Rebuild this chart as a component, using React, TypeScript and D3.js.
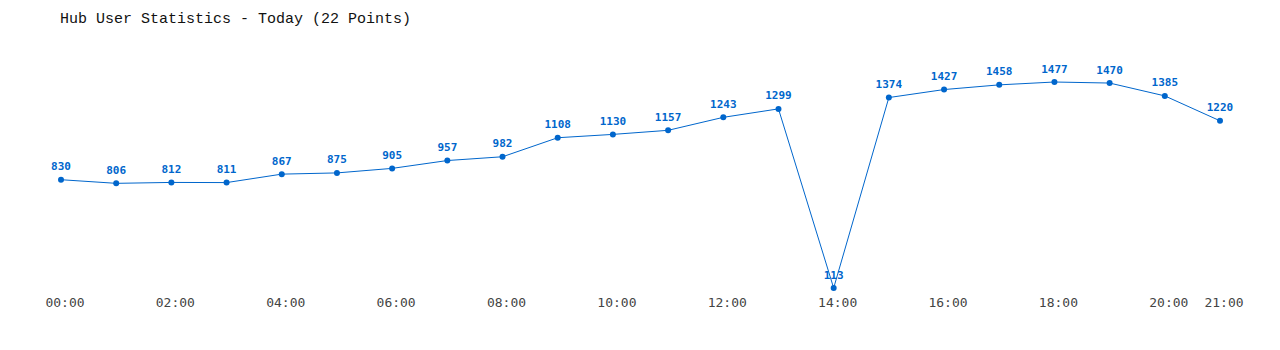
import React from "react";
import * as d3 from "d3";

const categories = ["00:00","01:00","02:00","03:00","04:00","05:00","06:00","07:00","08:00","09:00","10:00","11:00","12:00","13:00","14:00","15:00","16:00","17:00","18:00","19:00","20:00","21:00"];
const values = [830, 806, 812, 811, 867, 875, 905, 957, 982, 1108, 1130, 1157, 1243, 1299, 113, 1374, 1427, 1458, 1477, 1470, 1385, 1220];
const tickLabels = ["00:00","02:00","04:00","06:00","08:00","10:00","12:00","14:00","16:00","18:00","20:00","21:00"];

export default function App() {
  const W = 1280, H = 350;
  const x = d3.scalePoint<string>().domain(categories).range([61, 1220]);
  const y = d3.scaleLinear().domain([d3.min(values)!, d3.max(values)!]).range([288, 82]);
  const line = d3.line<number>().x((_, i) => x(categories[i])!).y(d => y(d));
  const blue = "#0066cc";
  return (
    <svg width={W} height={H} style={{ position: "absolute", left: 0, top: 0 }}>
      <rect width={W} height={H} fill="#fff" />
      <text x={60} y={23} fontFamily="'Liberation Mono', monospace" fontSize={15} fill="#111">Hub User Statistics - Today (22 Points)</text>
      <path d={line(values) || ""} fill="none" stroke={blue} strokeWidth={1} />
      {values.map((v, i) => (
        <g key={i}>
          <circle cx={x(categories[i])} cy={y(v)} r={3} fill={blue} />
          <text x={x(categories[i])} y={y(v) - 9.5} textAnchor="middle" fontFamily="'DejaVu Sans Mono', monospace" fontWeight="bold" fontSize={11} fill={blue}>{v}</text>
        </g>
      ))}
      {tickLabels.map(t => (
        <text key={t} x={x(t)! + 4} y={307} textAnchor="middle" fontFamily="'DejaVu Sans Mono', monospace" fontSize={13} fill="#444">{t}</text>
      ))}
    </svg>
  );
}
